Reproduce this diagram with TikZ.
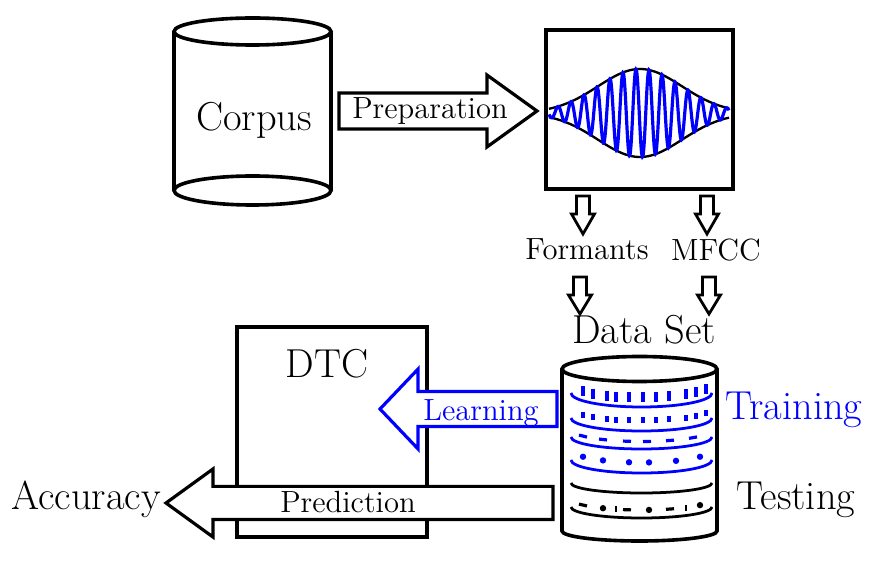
\documentclass[tikz,border=0pt]{standalone}
\usetikzlibrary{calc}

\tikzset{
  outline/.style={line width=1.7pt},
  fat/.style={draw, fill=white, line width=1.5pt, line join=miter},
  small fat/.style={fat, line width=1.3pt},
  txt/.style={anchor=base, inner sep=0pt},
  big/.style={font=\fontsize{19}{23}\selectfont},
  band/.style={line width=1.3pt},
}

% block arrow: tail, tip, half shaft, half head, head length
\newcommand{\fatarrow}[6][]{%
  \coordinate (fa base) at ($(#3)!#6!(#2)$);
  \draw[fat,#1] ($(#2)!#4!90:(#3)$) -- ($(fa base)!#4!90:(#3)$)
    -- ($(fa base)!#5!90:(#3)$) -- (#3) -- ($(fa base)!#5!-90:(#3)$)
    -- ($(fa base)!#4!-90:(#3)$) -- ($(#2)!#4!-90:(#3)$) -- cycle;}

% lower half of an ellipse inside the data set cylinder
\newcommand{\bandarc}[3][]{%
  \draw[band,#1] (571,#2) arc[start angle=180, end angle=0, x radius=70.5, y radius=#3];}

\begin{document}
\begin{tikzpicture}[x=0.47pt, y=-0.47pt]
\useasboundingbox (0,0) rectangle (879,569);

% corpus
\draw[outline] (174,31.5) -- (174,190.5) (331,31.5) -- (331,190.5);
\draw[outline] (252.5,31.5) ellipse [x radius=78.5, y radius=13.5];
\draw[outline] (252.5,190.5) ellipse [x radius=78.5, y radius=14.5];
\node[txt, big] (corpus) at (254,131) {Corpus};

% signal
\node[draw, outline, minimum width=87.9pt, minimum height=74.7pt] (signal) at (639.5,109.5) {};
\draw[line width=1.1pt, domain=549:729, samples=150, smooth]
  plot (\x, {113-44*exp(-((\x-640)^2)/3528)})
  plot (\x, {113+44*exp(-((\x-640)^2)/3528)});
\draw[blue, line width=1.5pt, domain=549:729, samples=500]
  plot (\x, {113-44*exp(-((\x-640)^2)/3528)*cos((\x-636)/13*360)});

% preparation
\coordinate (prep tail) at (339,111);
\coordinate (prep tip) at (537,111);
\fatarrow{prep tail}{prep tip}{8.5pt}{16.9pt}{23.5pt}
\node[txt, font=\Large] (prep) at (430,119) {Preparation};

% features
\coordinate (f1 tail) at (583,196);
\coordinate (f1 tip) at (583,234);
\coordinate (m1 tail) at (707,196);
\coordinate (m1 tip) at (707,234);
\fatarrow[small fat]{f1 tail}{f1 tip}{3.1pt}{5.4pt}{9.4pt}
\fatarrow[small fat]{m1 tail}{m1 tip}{3.1pt}{5.4pt}{9.4pt}
\node[txt, font=\Large] (formants) at (587,260) {Formants};
\node[txt, font=\Large] (mfcc) at (716,261) {MFCC};
\coordinate (f2 tail) at (580,277);
\coordinate (f2 tip) at (580,314);
\coordinate (m2 tail) at (709,277);
\coordinate (m2 tip) at (709,314);
\fatarrow[small fat]{f2 tail}{f2 tip}{3.1pt}{5.4pt}{8.9pt}
\fatarrow[small fat]{m2 tail}{m2 tip}{3.1pt}{5.4pt}{8.9pt}

% data set
\node[txt, big] (dataset) at (644,344) {Data Set};
\draw[outline] (562,369) -- (562,531) arc[start angle=180, end angle=0, x radius=77.5, y radius=10] -- (717,369);
\draw[outline] (639.5,369) ellipse [x radius=77.5, y radius=12.5];
\bandarc[blue]{393}{14}
\bandarc[blue]{418}{13}
\bandarc[blue]{437}{12}
\bandarc[blue]{460}{13}
\bandarc{483}{10}
\bandarc{507}{11}
\foreach \x in {583,593,607,616,629,643,656,669,686,696,706}{
  \pgfmathsetmacro\yy{393+14*sqrt(1-((\x-641.5)/70.5)^2)-9.5}
  \draw[blue, line width=1.5pt] (\x,\yy-5) -- (\x,\yy+5);
  \pgfmathsetmacro\yy{418+13*sqrt(1-((\x-641.5)/70.5)^2)-10.5}
  \draw[blue, line width=1.5pt] (\x,\yy-3) -- (\x,\yy+3);
}
\foreach \x in {583,603,627,647,670,693}{
  \pgfmathsetmacro\ya{437+12*sqrt(1-((\x-4-641.5)/70.5)^2)-7.5}
  \pgfmathsetmacro\yb{437+12*sqrt(1-((\x+4-641.5)/70.5)^2)-7.5}
  \draw[blue, line width=1.5pt] (\x-4,\ya) -- (\x+4,\yb);
}
\foreach \x in {583,603,629,649,676,700}{
  \pgfmathsetmacro\yy{460+13*sqrt(1-((\x-641.5)/70.5)^2)-10.5}
  \fill[blue] (\x,\yy) circle [radius=1.5pt];
}
\foreach \x in {583,627,670}{
  \pgfmathsetmacro\ya{507+11*sqrt(1-((\x-4-641.5)/70.5)^2)-8}
  \pgfmathsetmacro\yb{507+11*sqrt(1-((\x+4-641.5)/70.5)^2)-8}
  \draw[line width=1.5pt] (\x-4,\ya) -- (\x+4,\yb);
}
\foreach \x in {603,649,700}{
  \pgfmathsetmacro\yy{507+11*sqrt(1-((\x-641.5)/70.5)^2)-8}
  \fill (\x,\yy) circle [radius=1.5pt];
}
\foreach \x in {616,686}{
  \pgfmathsetmacro\yy{507+11*sqrt(1-((\x-641.5)/70.5)^2)-8}
  \draw[line width=1.3pt] (\x,\yy-3) -- (\x,\yy+3);
}
\node[txt, big, text=blue] (training) at (794,420) {Training};
\node[txt, big] (testing) at (796,510) {Testing};

% classifier
\node[draw, outline, minimum width=89.3pt, minimum height=98.7pt] (dtc) at (332,432) {};
\node[txt, big] (dtc label) at (327,378) {DTC};
\coordinate (learn tail) at (557,409);
\coordinate (learn tip) at (380,409);
\fatarrow[draw=blue]{learn tail}{learn tip}{8.2pt}{18.8pt}{17.9pt}
\node[txt, font=\Large, text=blue] (learning) at (481,421) {Learning};
\coordinate (pred tail) at (553,503);
\coordinate (pred tip) at (166,503);
\fatarrow{pred tail}{pred tip}{7.8pt}{16pt}{22.1pt}
\node[txt, font=\Large] (prediction) at (348,512) {Prediction};
\node[txt, big] (accuracy) at (86,510) {Accuracy};
\end{tikzpicture}
\end{document}
